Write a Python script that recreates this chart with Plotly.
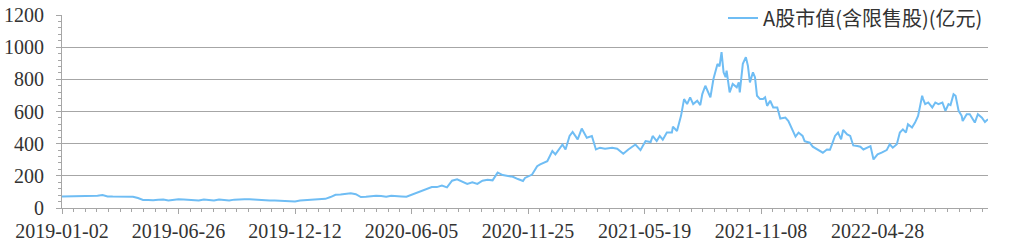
import plotly.graph_objects as go

# trading-day index of each sample (0 = 2019-01-02)
day_index = list(range(0, 460, 5)) + [
    457, 464, 469, 472, 479, 484, 487, 492, 494, 497,
    501, 504, 509, 513, 518, 523, 527, 531, 536, 543,
    548, 554, 559, 566, 571, 576, 581, 583, 587, 590,
    593, 597, 602, 603, 607, 611, 614, 617, 620, 623,
    627, 630, 632, 635, 640, 643, 645, 647, 649, 651,
    653, 655, 656, 657, 659, 662, 666, 668, 669, 672,
    675, 677, 679, 682, 684, 686, 689, 692, 694, 696,
    699, 702, 706, 709, 714, 717, 721, 724, 727, 731,
    733, 738, 741, 746, 751, 755, 758, 760, 763, 766,
    769, 771, 775, 778, 781, 785, 788, 791, 795, 798,
    801, 805, 809, 814, 817, 820, 824, 827, 830, 833,
    835, 839, 842, 845, 847, 849, 850, 852, 855, 859,
    862, 865, 869, 872, 875, 877, 880, 882, 885, 888,
    889, 893, 896, 901, 904, 908, 911, 914,
]

# A股市值(含限售股)(亿元)
market_value = [
    72, 72, 73, 72, 73, 72, 74, 76, 80, 72,
    71, 70, 71, 69, 70, 62, 50, 49, 48, 52,
    53, 47, 52, 54, 53, 52, 50, 46, 53, 50,
    46, 53, 50, 46, 52, 55, 54, 55, 53, 47,
    46, 46, 46, 44, 40, 39, 40, 46, 48, 52,
    56, 58, 57, 68, 82, 84, 88, 92, 86, 68,
    70, 73, 76, 74, 70, 76, 76, 72, 70, 82,
    90, 106, 118, 130, 130, 139, 128, 170, 178, 165,
    150, 160, 150, 170, 176, 172, 220, 205, 198, 194,
    180, 168,
    187, 208, 260, 271, 291, 354, 333, 375, 395, 364,
    448, 473, 427, 494, 437, 448, 364, 375, 369, 375,
    369, 337, 364, 395, 360, 416, 410, 448, 416, 448,
    425, 469, 469, 506, 479, 573, 677, 646, 688, 646,
    667, 640, 708, 760, 688, 802, 854, 896, 880, 969,
    844, 813, 854, 802, 719, 771, 750, 781, 719, 896,
    938, 885, 781, 844, 813, 698, 677, 677, 688, 635,
    667, 625, 625, 556, 562, 541, 479, 444, 469, 448,
    416, 406, 381, 364, 344, 364, 362, 396, 448, 469,
    427, 485, 458, 448, 389, 386, 381, 364, 375, 385,
    302, 333, 344, 360, 396, 375, 396, 469, 489, 469,
    521, 500, 531, 573, 635, 698, 677, 646, 656, 625,
    656, 646, 656, 604, 646, 640, 708, 698, 604, 573,
    541, 583, 583, 531, 583, 562, 535, 552,
]

tick_index = [0, 115, 230, 345, 460, 575, 690, 805]
tick_labels = ["2019-01-02", "2019-06-26", "2019-12-12", "2020-06-05",
               "2020-11-25", "2021-05-19", "2021-11-08", "2022-04-28"]
series_name = "A股市值(含限售股)(亿元)"

grid = "#a6a6a6"
tick_font = dict(family="Liberation Serif", size=20, color="#333333")

n = min(len(day_index), len(market_value))

fig = go.Figure()
fig.add_trace(go.Scatter(
    x=day_index[:n], y=market_value[:n], mode="lines",
    name=series_name, line=dict(color="#6fbdf4", width=2),
))

fig.update_layout(
    width=1015, height=242,
    margin=dict(l=62, r=27, t=15, b=34, autoexpand=False),
    paper_bgcolor="white", plot_bgcolor="white",
    showlegend=True,
    legend=dict(x=1.0, xanchor="right", y=0.985, yanchor="middle",
                bgcolor="white", borderwidth=0, itemwidth=30,
                font=dict(family="Noto Sans CJK SC", size=20, color="#333333")),
    xaxis=dict(
        range=[0, day_index[n - 1]],
        tickmode="array", tickvals=tick_index, ticktext=tick_labels,
        showgrid=False, zeroline=False,
        showline=True, linecolor=grid, linewidth=1,
        ticks="outside", ticklen=5, tickcolor=grid,
        minor=dict(tickmode="linear", tick0=0, dtick=11.5, ticks="outside",
                   ticklen=3, tickcolor=grid, showgrid=False),
        tickfont=tick_font,
    ),
    yaxis=dict(
        range=[0, 1200], tickmode="linear", tick0=0, dtick=200,
        showgrid=True, gridcolor=grid, gridwidth=1, zeroline=False,
        showline=True, linecolor=grid, linewidth=1,
        ticks="outside", ticklen=5, tickcolor=grid,
        minor=dict(tickmode="linear", tick0=0, dtick=40, ticks="outside",
                   ticklen=3, tickcolor=grid, showgrid=False),
        tickfont=tick_font, ticklabelstandoff=8,
    ),
)

fig.write_html("out.html")
